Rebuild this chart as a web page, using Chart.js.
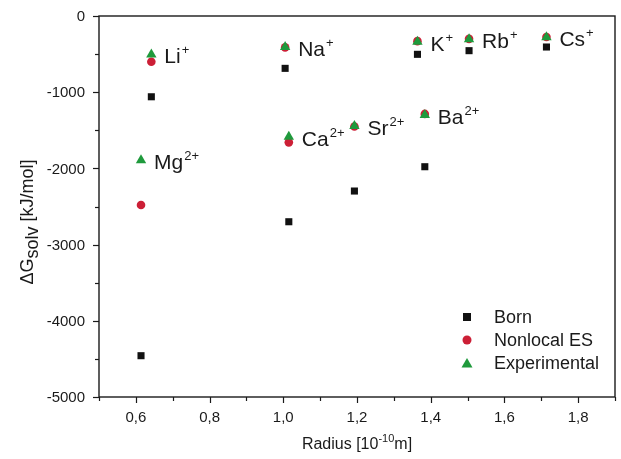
<!DOCTYPE html>
<html>
<head>
<meta charset="utf-8">
<script src="https://cdn.jsdelivr.net/npm/chart.js@4.4.1/dist/chart.umd.min.js"></script>
<style>
html,body{margin:0;padding:0;background:#fff;}
#wrap{width:621px;height:459px;position:relative;}
</style>
</head>
<body>
<div id="wrap"><canvas id="c" width="621" height="459"></canvas></div>
<script>
// ---- data ----
const ions = ["Li", "Na", "K", "Rb", "Cs", "Mg", "Ca", "Sr", "Ba"];
const charges = ["+", "+", "+", "+", "+", "2+", "2+", "2+", "2+"];
const radius = [0.642, 1.005, 1.364, 1.504, 1.714, 0.614, 1.015, 1.193, 1.384];
const born = [-1060, -687, -503, -455, -407, -4458, -2700, -2297, -1978];
const nonlocalES = [-600, -412, -330, -300, -275, -2480, -1658, -1450, -1285];
const experimental = [-505, -407, -337, -306, -280, -1894, -1584, -1444, -1299];
const seriesNames = ["Born", "Nonlocal ES", "Experimental"];
const xTickLabels = ["0,6", "0,8", "1,0", "1,2", "1,4", "1,6", "1,8"];
const yTickLabels = ["0", "-1000", "-2000", "-3000", "-4000", "-5000"];

const pts = (ys) => radius.map((x, i) => ({x: x, y: ys[i]}));
const FONT = "'Liberation Sans', Arial, sans-serif";
const TXT = "#1a1a1a";

const decorPlugin = {
  id: "decor",
  afterDraw(chart) {
    const ctx = chart.ctx;
    const xs = chart.scales.x, ys = chart.scales.y;
    const a = chart.chartArea;
    ctx.save();
    // frame
    ctx.strokeStyle = "#1a1a1a";
    ctx.lineWidth = 1.4;
    ctx.strokeRect(a.left, a.top, a.right - a.left, a.bottom - a.top);
    // x ticks
    ctx.lineWidth = 1.2;
    for (let k = 5; k <= 19; k++) {
      const v = k / 10;
      const px = Math.round(xs.getPixelForValue(v)) + 0.5;
      const major = (k % 2 === 0);
      ctx.beginPath();
      ctx.moveTo(px, a.bottom);
      ctx.lineTo(px, a.bottom + (major ? 6 : 4));
      ctx.stroke();
    }
    // y ticks
    for (let k = 0; k <= 10; k++) {
      const v = -k * 500;
      const py = Math.round(ys.getPixelForValue(v)) + 0.5;
      const major = (k % 2 === 0);
      ctx.beginPath();
      ctx.moveTo(a.left, py);
      ctx.lineTo(a.left - (major ? 6 : 4), py);
      ctx.stroke();
    }
    // tick labels
    ctx.fillStyle = TXT;
    ctx.font = "15px " + FONT;
    ctx.textAlign = "center";
    ctx.textBaseline = "middle";
    xTickLabels.forEach((t) => {
      const v = parseFloat(t.replace(",", "."));
      ctx.fillText(t, xs.getPixelForValue(v), a.bottom + 21);
    });
    ctx.textAlign = "right";
    yTickLabels.forEach((t) => {
      const v = parseFloat(t);
      ctx.fillText(t, a.left - 14, ys.getPixelForValue(v) + 1);
    });
    // x title with superscript
    ctx.textBaseline = "alphabetic";
    ctx.textAlign = "left";
    const f1 = "16px " + FONT, f2 = "11px " + FONT;
    const parts = [["Radius [10", f1, 0], ["-10", f2, -7], ["m]", f1, 0]];
    let w = 0;
    parts.forEach(p => { ctx.font = p[1]; w += ctx.measureText(p[0]).width; });
    let x0 = (a.left + a.right) / 2 - w / 2;
    parts.forEach(p => { ctx.font = p[1]; ctx.fillText(p[0], x0, 449 + p[2]); x0 += ctx.measureText(p[0]).width; });
    // y title rotated
    ctx.save();
    ctx.translate(33, 222);
    ctx.rotate(-Math.PI / 2);
    const fy = "18px " + FONT;
    const yparts = [["\u0394G", fy, 0], ["solv", fy, 5], [" [kJ/mol]", fy, 0]];
    w = 0;
    yparts.forEach(p => { ctx.font = p[1]; w += ctx.measureText(p[0]).width; });
    x0 = -w / 2;
    yparts.forEach(p => { ctx.font = p[1]; ctx.fillText(p[0], x0, p[2]); x0 += ctx.measureText(p[0]).width; });
    ctx.restore();
    // ion labels
    ions.forEach((name, i) => {
      const px = xs.getPixelForValue(radius[i]) + 13;
      const py = ys.getPixelForValue(experimental[i]) + 9;
      ctx.font = "21px " + FONT;
      ctx.fillStyle = TXT;
      ctx.fillText(name, px, py);
      const nw = ctx.measureText(name).width;
      ctx.font = "13px " + FONT;
      ctx.fillText(charges[i], px + nw + 1, py - 9);
    });
    // legend
    const ds = chart.data.datasets;
    const lx = 467, ly0 = 317, step = 23;
    ds.forEach((d, i) => {
      const y = ly0 + i * step;
      ctx.fillStyle = d.backgroundColor;
      ctx.beginPath();
      if (d.pointStyle === "rect") {
        ctx.fillRect(lx - 4, y - 4, 8, 8);
      } else if (d.pointStyle === "circle") {
        ctx.arc(lx, y, 4.5, 0, Math.PI * 2); ctx.fill();
      } else {
        ctx.moveTo(lx, y - 5); ctx.lineTo(lx + 5.5, y + 4.5); ctx.lineTo(lx - 5.5, y + 4.5); ctx.closePath(); ctx.fill();
      }
      ctx.fillStyle = TXT;
      ctx.font = "18px " + FONT;
      ctx.textBaseline = "middle";
      ctx.fillText(d.label, 494, y + 1);
    });
    ctx.restore();
  }
};

new Chart(document.getElementById("c"), {
  type: "scatter",
  data: {
    datasets: [
      {label: seriesNames[0], data: pts(born), order: 3, pointStyle: "rect", pointRadius: 5, backgroundColor: "#111111", borderWidth: 0},
      {label: seriesNames[1], data: pts(nonlocalES), order: 2, pointStyle: "circle", pointRadius: 4.3, backgroundColor: "#cc1f36", borderWidth: 0},
      {label: seriesNames[2], data: pts(experimental), order: 1, pointStyle: "triangle", pointRadius: 6, backgroundColor: "#1f9a3c", borderWidth: 0}
    ]
  },
  options: {
    responsive: false,
    animation: false,
    layout: {padding: {top: 16, right: 6, left: 0, bottom: 0}},
    plugins: {legend: {display: false}, tooltip: {enabled: false}},
    scales: {
      x: {
        type: "linear", min: 0.5, max: 1.9,
        grid: {display: false}, border: {display: false},
        ticks: {display: false},
        afterFit(s) { s.height = 62; }
      },
      y: {
        type: "linear", min: -5000, max: 0,
        grid: {display: false}, border: {display: false},
        ticks: {display: false},
        afterFit(s) { s.width = 99; }
      }
    }
  },
  plugins: [decorPlugin]
});
</script>
</body>
</html>
